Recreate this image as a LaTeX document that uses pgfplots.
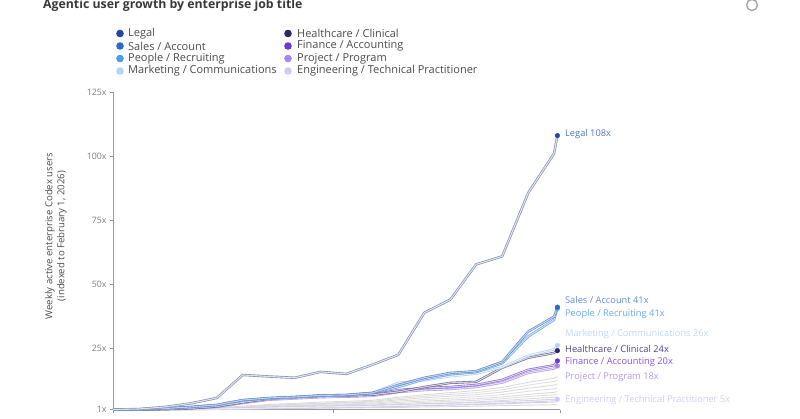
\documentclass[border=0pt]{standalone}
\usepackage{pgfplots}
\pgfplotsset{compat=1.18}
\usepackage{fontspec}
\setmainfont{Open Sans}
\definecolor{cLegal}{HTML}{1C47A8}
\definecolor{cSales}{HTML}{2A6AD0}
\definecolor{cPeople}{HTML}{4A9CF2}
\definecolor{cMkt}{HTML}{B4D6F6}
\definecolor{cHealth}{HTML}{30226E}
\definecolor{cFin}{HTML}{6A38D8}
\definecolor{cProj}{HTML}{A486F0}
\definecolor{cEng}{HTML}{D2C8F8}
\definecolor{txt}{HTML}{4A4A4A}
\definecolor{axg}{HTML}{9A9A9A}
\begin{document}
\begin{tikzpicture}[x=1bp,y=1bp]
\begin{axis}[
  at={(113bp,-409.5bp)}, anchor=south west,
  scale only axis, width=447bp, height=317.5bp,
  xmin=0, xmax=17.23, ymin=1, ymax=125,
  axis lines=left, axis line style={-, draw=axg, line width=0.9bp},
  xtick={0,8.5,17.23}, xticklabels={},
  ytick={1,25,50,75,100,125},
  yticklabels={1x,25x,50x,75x,100x,125x},
  tick style={draw=axg, line width=0.6bp},
  tick align=outside, major tick length=3bp,
  tick label style={font=\fontsize{8.8bp}{10bp}\selectfont, text=axg!80!black},
  /pgf/number format/assume math mode=true,
  clip=false,
]
% background job titles (gray)
\addplot[draw=gray!28, line width=0.9bp] coordinates {(0,1)(1,1)(2,1.1)(3,1.3)(4,1.7)(5,2.3)(6,3)(7,3.4)(8,3.9)(9,4.2)(10,4.6)(11,5.8)(12,6.8)(13,7.6)(14,8.4)(15,9.6)(16,11.6)(17,13.2)(17.13,14)};
\addplot[draw=gray!25, line width=0.9bp] coordinates {(0,1)(1,1)(2,1.1)(3,1.2)(4,1.5)(5,2.1)(6,2.7)(7,3.1)(8,3.5)(9,3.8)(10,4.2)(11,5.3)(12,6.2)(13,6.9)(14,7.6)(15,8.7)(16,10.5)(17,12)(17.13,12.5)};
\addplot[draw=gray!28, line width=0.9bp] coordinates {(0,1)(1,1)(2,1.1)(3,1.2)(4,1.5)(5,2)(6,2.5)(7,2.9)(8,3.3)(9,3.6)(10,3.9)(11,4.8)(12,5.6)(13,6.2)(14,6.8)(15,7.8)(16,9.3)(17,10.5)(17.13,11)};
\addplot[draw=gray!25, line width=0.9bp] coordinates {(0,1)(1,1)(2,1)(3,1.2)(4,1.4)(5,1.8)(6,2.3)(7,2.6)(8,3)(9,3.2)(10,3.5)(11,4.3)(12,4.9)(13,5.4)(14,6)(15,6.8)(16,8.1)(17,9.1)(17.13,9.5)};
\addplot[draw=gray!28, line width=0.9bp] coordinates {(0,1)(1,1)(2,1)(3,1.1)(4,1.3)(5,1.7)(6,2.1)(7,2.4)(8,2.7)(9,2.9)(10,3.1)(11,3.8)(12,4.3)(13,4.7)(14,5.2)(15,5.9)(16,6.9)(17,7.7)(17.13,8)};
\addplot[draw=gray!25, line width=0.9bp] coordinates {(0,1)(1,1)(2,1)(3,1.1)(4,1.3)(5,1.6)(6,1.9)(7,2.2)(8,2.4)(9,2.6)(10,2.8)(11,3.3)(12,3.8)(13,4.2)(14,4.6)(15,5.2)(16,6.1)(17,6.7)(17.13,7)};
\addplot[draw=gray!28, line width=0.9bp] coordinates {(0,1)(1,1)(2,1)(3,1.1)(4,1.2)(5,1.5)(6,1.8)(7,2)(8,2.2)(9,2.3)(10,2.5)(11,2.9)(12,3.3)(13,3.6)(14,4)(15,4.5)(16,5.2)(17,5.8)(17.13,6)};
\addplot[draw=gray!35, line width=0.9bp] coordinates {(0,1)(1,1)(2,1)(3,1)(4,1.1)(5,1.3)(6,1.5)(7,1.6)(8,1.8)(9,1.9)(10,2)(11,2.2)(12,2.5)(13,2.7)(14,2.9)(15,3.2)(16,3.6)(17,3.9)(17.13,4)};
\addplot[draw=gray!30, line width=0.9bp] coordinates {(0,1)(1,1)(2,1)(3,1)(4,1.1)(5,1.2)(6,1.3)(7,1.4)(8,1.5)(9,1.6)(10,1.7)(11,1.8)(12,2)(13,2.1)(14,2.3)(15,2.5)(16,2.7)(17,2.9)(17.13,3)};
% highlighted series
\addplot[draw=cEng!80!gray!80!white, double=cEng!35!white, double distance=1.1bp, line width=0.6bp] coordinates {(0,1)(1,1)(2,1)(3,1.1)(4,1.2)(5,1.4)(6,1.6)(7,1.8)(8,2)(9,2.1)(10,2.3)(11,2.6)(12,2.9)(13,3.1)(14,3.4)(15,3.8)(16,4.2)(17,4.7)(17.13,5)};
\addplot[draw=cProj!85!gray!85!white, double=cProj!30!white, double distance=1.1bp, line width=0.6bp] coordinates {(0,1)(1,1)(2,1.1)(3,1.4)(4,2)(5,3.5)(6,4.8)(7,5.3)(8,5.8)(9,6)(10,6.3)(11,7.8)(12,8.6)(13,9)(14,9.8)(15,11.5)(16,15.3)(17,17)(17.13,18)};
\addplot[draw=cFin!70!gray!85!white, double=cFin!25!white, double distance=1.1bp, line width=0.6bp] coordinates {(0,1)(1,1)(2,1.2)(3,1.5)(4,2.3)(5,4)(6,5.3)(7,5.8)(8,6.3)(9,6.5)(10,6.8)(11,8.6)(12,9.4)(13,9.8)(14,10.6)(15,12.6)(16,16.5)(17,18.3)(17.13,20)};
\addplot[draw=cHealth!60!gray!85!white, double=cHealth!20!white, double distance=1.1bp, line width=0.6bp] coordinates {(0,1)(1,1)(2,1.2)(3,1.5)(4,2.2)(5,3.8)(6,5.2)(7,5.8)(8,6.3)(9,6.5)(10,6.8)(11,7.9)(12,9.8)(13,11.4)(14,11.8)(15,17.3)(16,21.2)(17,23.1)(17.13,24)};
\addplot[draw=cMkt!90!gray, double=cMkt!35!white, double distance=1.1bp, line width=0.6bp] coordinates {(0,1)(1,1.1)(2,1.3)(3,1.8)(4,2.6)(5,4.4)(6,5.3)(7,5.8)(8,6.4)(9,6.6)(10,7.4)(11,11.4)(12,12.5)(13,14)(14,15)(15,17.5)(16,22)(17,24.5)(17.13,26)};
\addplot[draw=cPeople!80!gray!90!white, double=cPeople!30!white, double distance=1.1bp, line width=0.6bp] coordinates {(0,1)(1,1.1)(2,1.4)(3,2)(4,2.8)(5,4.6)(6,5.4)(7,5.9)(8,6.5)(9,6.7)(10,7.5)(11,9.8)(12,12.8)(13,14.8)(14,15.6)(15,19)(16,29.5)(17,36)(17.13,40.5)};
\addplot[draw=cSales!70!gray!85!white, double=cSales!30!white, double distance=1.1bp, line width=0.6bp] coordinates {(0,1)(1,1.1)(2,1.4)(3,2)(4,2.8)(5,4.7)(6,5.5)(7,5.9)(8,6.5)(9,6.7)(10,7.5)(11,10.6)(12,13.4)(13,15.3)(14,16)(15,19.6)(16,31.4)(17,37.3)(17.13,41)};
\addplot[draw=cLegal!40!gray!75!white, double=cLegal!15!white, double distance=1.1bp, line width=0.65bp] coordinates {(0,1)(1,1.2)(2,2)(3,3.4)(4,5.5)(5,14.5)(6,13.9)(7,13.4)(8,15.7)(9,14.9)(10,18.5)(11,22.4)(12,38.8)(13,43.9)(14,57.7)(15,60.8)(16,85.5)(17,101)(17.13,108)};
% end markers
\addplot[only marks, mark=*, mark size=2.3bp, color=cEng] coordinates {(17.13,5)};
\addplot[only marks, mark=*, mark size=2.3bp, color=cProj] coordinates {(17.13,18)};
\addplot[only marks, mark=*, mark size=2.3bp, color=cFin] coordinates {(17.13,20)};
\addplot[only marks, mark=*, mark size=2.3bp, color=cHealth] coordinates {(17.13,24)};
\addplot[only marks, mark=*, mark size=2.3bp, color=cMkt] coordinates {(17.13,26)};
\addplot[only marks, mark=*, mark size=2.3bp, color=cPeople] coordinates {(17.13,40.5)};
\addplot[only marks, mark=*, mark size=2.3bp, color=cSales] coordinates {(17.13,41)};
\addplot[only marks, mark=*, mark size=2.3bp, color=cLegal] coordinates {(17.13,108)};
% end labels
\begin{scope}[every node/.style={anchor=west, inner sep=0pt, font=\fontsize{9.3bp}{11bp}\selectfont}]
\node[text=cLegal!75!white] at (axis cs:17.42,108.6) {Legal 108x};
\node[text=cSales!75!white] at (axis cs:17.42,43.7) {Sales / Account 41x};
\node[text=cPeople!85!white] at (axis cs:17.42,38.1) {People / Recruiting 41x};
\node[text=cMkt!90!white] at (axis cs:17.42,30.6) {Marketing / Communications 26x};
\node[text=cHealth!85!white] at (axis cs:17.42,24.7) {Healthcare / Clinical 24x};
\node[text=cFin!85!white] at (axis cs:17.42,19.3) {Finance / Accounting 20x};
\node[text=cProj!85!white] at (axis cs:17.42,13.6) {Project / Program 18x};
\node[text=cEng!95!white] at (axis cs:17.42,4.7) {Engineering / Technical Practitioner 5x};
\end{scope}
\end{axis}
% title
\node[anchor=west, inner sep=0pt, font=\bfseries\fontsize{12.3bp}{13bp}\selectfont, text=black!78] at (43,-5) {Agentic user growth by enterprise job title};
% logo
\draw[gray!70, line width=1.4bp] (752,-5) circle (5.5bp);
% legend
\begin{scope}[every node/.style={anchor=west, inner sep=0pt, font=\fontsize{11bp}{12bp}\selectfont, text=txt}]
\fill[cLegal] (120,-33.5) circle (3.8bp); \node at (128,-33.5) {Legal};
\fill[cSales] (120,-46) circle (3.8bp); \node at (128,-46) {Sales / Account};
\fill[cPeople] (120,-58.5) circle (3.8bp); \node at (128,-58.5) {People / Recruiting};
\fill[cMkt] (120,-71) circle (3.8bp); \node at (128,-71) {Marketing / Communications};
\fill[cHealth] (288,-33.5) circle (3.8bp); \node at (297,-33.5) {Healthcare / Clinical};
\fill[cFin] (288,-46) circle (3.8bp); \node at (297,-46) {Finance / Accounting};
\fill[cProj] (288,-58.5) circle (3.8bp); \node at (297,-58.5) {Project / Program};
\fill[cEng] (288,-71) circle (3.8bp); \node at (297,-71) {Engineering / Technical Practitioner};
\end{scope}
% y label
\node[rotate=90, align=center, inner sep=0pt, font=\fontsize{9.6bp}{12bp}\selectfont, text=txt] at (56,-236) {Weekly active enterprise Codex users\\(indexed to February 1, 2026)};
\pgfresetboundingbox
\useasboundingbox (0,0) rectangle (800,-418);
\end{tikzpicture}
\end{document}
